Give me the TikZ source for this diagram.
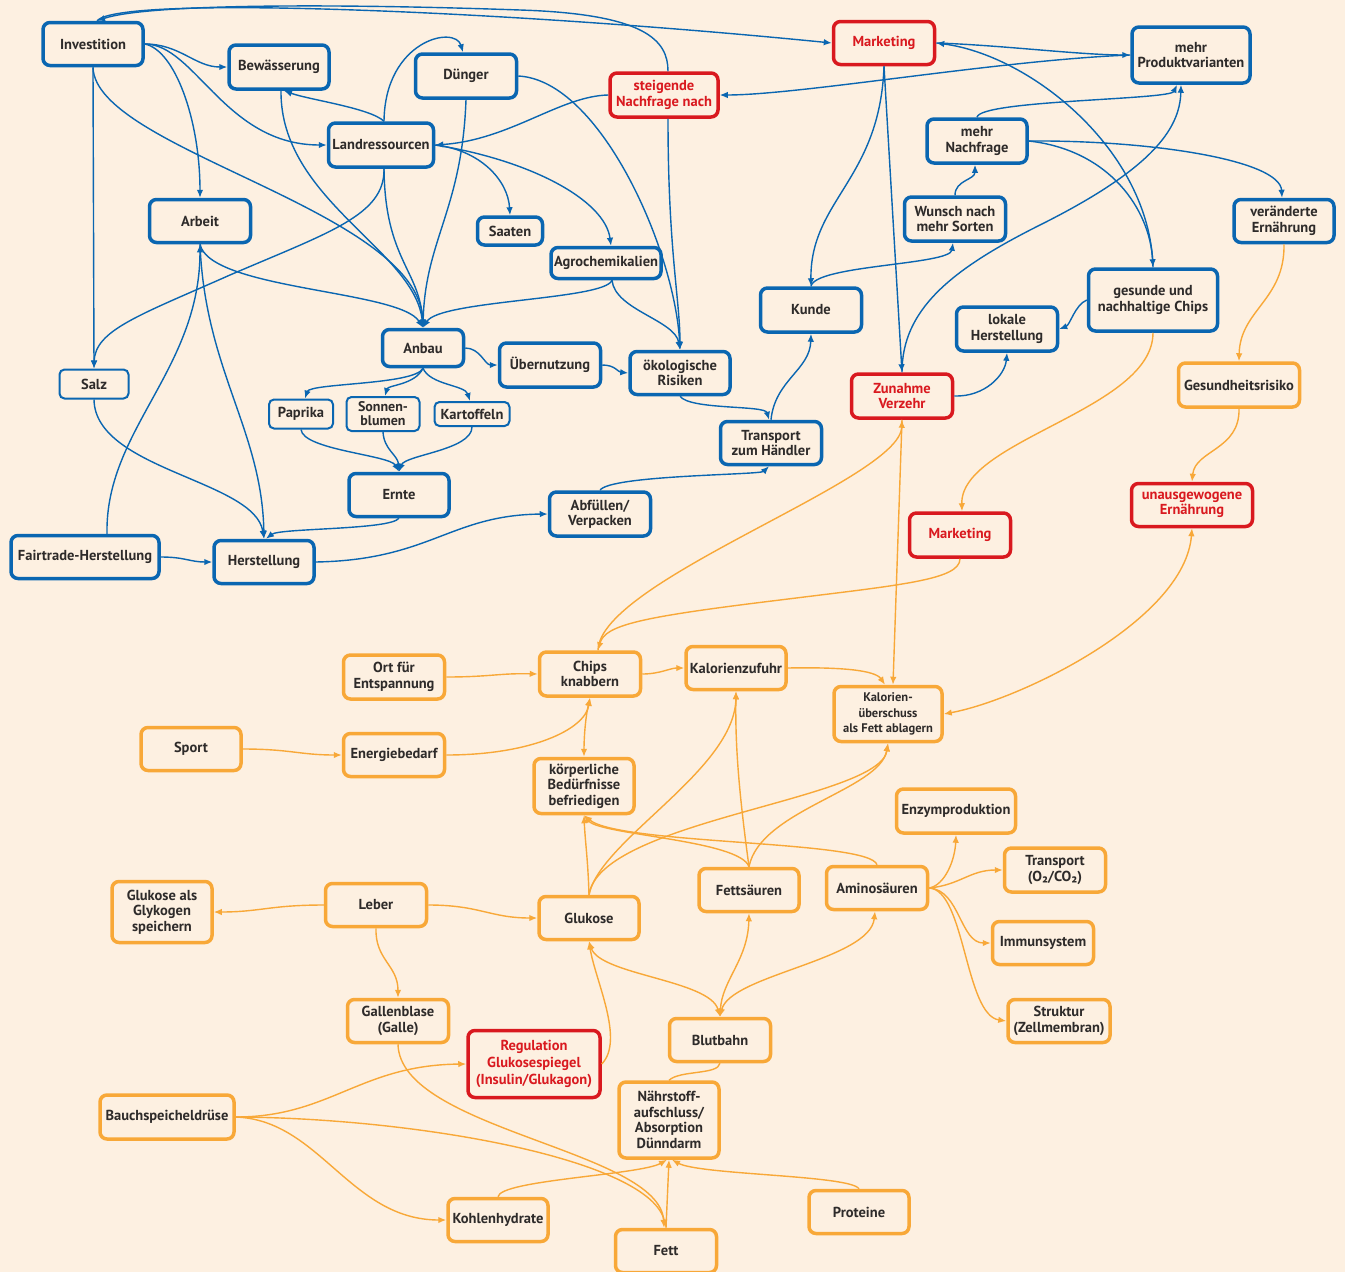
\documentclass[tikz,border=0pt]{standalone}
\usepackage{fontspec}
\setmainfont{PT Sans}
\usetikzlibrary{arrows.meta}
\definecolor{bgc}{HTML}{FDF0E1}
\definecolor{blc}{HTML}{0A66B1}
\definecolor{ogc}{HTML}{F8A838}
\definecolor{rdc}{HTML}{D9191F}
\definecolor{txc}{HTML}{2E2B2A}
\tikzset{
 nbox/.style={draw, rounded corners=7pt, line width=3.5pt, fill=bgc, align=center, text=txc,
   font=\bfseries\fontsize{14.5}{15.5}\selectfont, inner sep=1pt},
 bnode/.style={nbox, draw=blc},
 tnode/.style={nbox, draw=blc, line width=2pt, rounded corners=5pt},
 onode/.style={nbox, draw=ogc},
 rnode/.style={nbox, draw=rdc, text=rdc},
 sz/.style 2 args={minimum width=#1pt, minimum height=#2pt},
 ba/.style={draw=blc, line width=1.4pt, -{Latex[length=8pt,width=6.5pt]}},
 oa/.style={draw=ogc, line width=1.4pt, -{Latex[length=8pt,width=6.5pt]}},
 oaa/.style={draw=ogc, line width=1.4pt, {Latex[length=8pt,width=6.5pt]}-{Latex[length=8pt,width=6.5pt]}},
 ol/.style={draw=ogc, line width=1.4pt},
}
\begin{document}
\begin{tikzpicture}[x=1pt,y=-1pt]
\useasboundingbox (0,0) rectangle (1345,1272);
\fill[bgc] (0,0) rectangle (1345,1272);
% ---------- blue / red top nodes
\node[bnode, sz={100}{43}] (inv) at (93,44) {Investition};
\node[bnode, sz={100}{44}] (bew) at (279,67) {Bewässerung};
\node[bnode, sz={101}{44}] (dung) at (466,76) {Dünger};
\node[rnode, sz={108}{44}] (steig) at (664,95) {steigende\\Nachfrage nach};
\node[rnode, sz={101}{43}] (mkt1) at (884,43) {Marketing};
\node[bnode, sz={118}{56}] (prod) at (1191,55) {mehr\\Produktvarianten};
\node[bnode, sz={105}{44}] (land) at (381,145) {Landressourcen};
\node[bnode, sz={100}{44}] (mnach) at (977,141) {mehr\\Nachfrage};
\node[bnode, sz={101}{43}] (arbeit) at (200,221) {Arbeit};
\node[bnode, sz={65}{28}] (saaten) at (510,231) {Saaten};
\node[bnode, sz={110}{31}] (agro) at (606,263) {Agrochemikalien};
\node[bnode, sz={101}{44}] (wunsch) at (955,219) {Wunsch nach\\mehr Sorten};
\node[bnode, sz={100}{43}] (veraend) at (1284,221) {veränderte\\Ernährung};
\node[bnode, sz={101}{44}] (kunde) at (811,310) {Kunde};
\node[bnode, sz={129}{62}] (gesund) at (1153,300) {gesunde und\\nachhaltige Chips};
\node[bnode, sz={101}{44}] (lokal) at (1007,329) {lokale\\Herstellung};
\node[bnode, sz={81}{37}] (anbau) at (423,348) {Anbau};
\node[bnode, sz={101}{44}] (uebern) at (550,365) {Übernutzung};
\node[bnode, sz={100}{43}] (oeko) at (680,373) {ökologische\\Risiken};
\node[tnode, sz={69}{29}] (salz) at (94,384) {Salz};
\node[tnode, sz={64}{29}] (paprika) at (301,414) {Paprika};
\node[tnode, sz={73}{34}, font=\bfseries\fontsize{14}{14}\selectfont] (sonnen) at (383,414) {Sonnen-\\blumen};
\node[tnode, sz={75}{24}, inner sep=0pt] (kartof) at (472,414) {Kartoffeln};
\node[rnode, sz={101}{44}] (zunahme) at (902,396) {Zunahme\\Verzehr};
\node[onode, sz={121}{44}] (gesrisk) at (1239,385) {Gesundheitsrisiko};
\node[bnode, sz={101}{43}] (transp) at (771,443) {Transport\\zum Händler};
\node[bnode, sz={100}{43}] (ernte) at (399,495) {Ernte};
\node[bnode, sz={101}{44}] (abf) at (600,514) {Abfüllen/\\Verpacken};
\node[rnode, sz={121}{43}] (unaus) at (1192,505) {unausgewogene\\Ernährung};
\node[rnode, sz={101}{44}] (mkt2) at (960,535) {Marketing};
\node[bnode, sz={148}{43}] (fair) at (85,557) {Fairtrade-Herstellung};
\node[bnode, sz={100}{43}] (herst) at (264,562) {Herstellung};
% ---------- orange nodes
\node[onode, sz={101}{44}] (ort) at (394,677) {Ort für\\Entspannung};
\node[onode, sz={101}{44}] (chips) at (590,674) {Chips\\knabbern};
\node[onode, sz={100}{43}] (kalz) at (736,668) {Kalorienzufuhr};
\node[onode, sz={108}{55}, font=\bfseries\fontsize{12.5}{15.5}\selectfont] (kalu) at (888,714) {Kalorien-\\überschuss\\als Fett ablagern};
\node[onode, sz={100}{43}] (sport) at (191,749) {Sport};
\node[onode, sz={101}{43}] (energ) at (394,755) {Energiebedarf};
\node[onode, sz={100}{55}] (koerp) at (584,786) {körperliche\\Bedürfnisse\\befriedigen};
\node[onode, sz={119}{44}] (enzym) at (956,811) {Enzymproduktion};
\node[onode, sz={100}{61}] (glyk) at (162,912) {Glukose als\\Glykogen\\speichern};
\node[onode, sz={101}{43}] (leber) at (376,905) {Leber};
\node[onode, sz={101}{44}] (tO) at (1055,870) {Transport\\(O₂/CO₂)};
\node[onode, sz={100}{43}] (fetts) at (749,890) {Fettsäuren};
\node[onode, sz={101}{43}] (amino) at (877,888) {Aminosäuren};
\node[onode, sz={100}{43}] (gluk) at (589,918) {Glukose};
\node[onode, sz={101}{43}] (immun) at (1043,943) {Immunsystem};
\node[onode, sz={101}{43}] (galle) at (398,1021) {Gallenblase\\(Galle)};
\node[onode, sz={102}{43}] (struk) at (1059,1021) {Struktur\\(Zellmembran)};
\node[rnode, sz={132}{67}, font=\bfseries\fontsize{14.5}{17}\selectfont] (regul) at (534,1064) {Regulation\\Glukosespiegel\\(Insulin/Glukagon)};
\node[onode, sz={101}{43}] (blut) at (720,1040) {Blutbahn};
\node[onode, sz={134}{44}] (bauch) at (167,1117) {Bauchspeicheldrüse};
\node[onode, sz={100}{76}] (naehr) at (669,1120) {Nährstoff-\\aufschluss/\\Absorption\\Dünndarm};
\node[onode, sz={100}{43}] (kohl) at (498,1220) {Kohlenhydrate};
\node[onode, sz={100}{43}] (prot) at (859,1212) {Proteine};
\node[onode, sz={101}{43}] (fett) at (666,1251) {Fett};
% ---------- blue connectors
\draw[ba] ([xshift=4pt]inv.north) .. controls (120,-5) and (500,10) .. (mkt1.west);
\draw[ba] ([xshift=4pt]steig.north) .. controls (668,40) and (645,14) .. (520,10) .. controls (350,4) and (150,3) .. ([xshift=4pt]inv.north);
\draw[ba] (inv.east) .. controls (180,44) and (195,67) .. (bew.west);
\draw[ba] (inv.east) .. controls (195,44) and (225,145) .. (land.west);
\draw[ba] (inv.east) .. controls (175,50) and (200,120) .. (arbeit.north);
\draw[ba] (inv.south) .. controls (95,150) and (420,210) .. (anbau.north);
\draw[ba] (inv.south) -- (salz.north);
\draw[ba] ([xshift=3pt]land.north) .. controls (370,108) and (310,100) .. ([xshift=5pt]bew.south);
\draw[ba] ([xshift=3pt]land.north) .. controls (385,40) and (455,25) .. ([xshift=-3pt]dung.north);
\draw[ba] ([xshift=3pt]land.south) .. controls (385,215) and (330,232) .. (230,275) .. controls (140,315) and (95,330) .. (salz.north);
\draw[ba] ([xshift=3pt]land.south) .. controls (385,260) and (420,270) .. (anbau.north);
\draw[ba] (land.east) .. controls (480,150) and (508,180) .. (saaten.north);
\draw[ba] (land.east) .. controls (530,160) and (605,200) .. ([xshift=5pt]agro.north);
\draw[ba] (steig.west) .. controls (560,96) and (510,140) .. (land.east);
\draw[ba] ([xshift=2pt]bew.south) .. controls (280,200) and (415,250) .. (anbau.north);
\draw[ba] (dung.south) .. controls (462,210) and (425,240) .. (anbau.north);
\draw[ba] (dung.east) .. controls (600,80) and (675,250) .. (oeko.north);
\draw[ba] ([xshift=4pt]steig.south) .. controls (668,250) and (680,300) .. (oeko.north);
\draw[ba] ([xshift=6pt]agro.south) .. controls (615,310) and (675,320) .. (oeko.north);
\draw[ba] ([xshift=6pt]agro.south) .. controls (605,300) and (440,300) .. (anbau.north);
\draw[ba] (arbeit.south) .. controls (210,290) and (400,290) .. (anbau.north);
\draw[ba] ([xshift=22pt]fair.north) .. controls (105,430) and (200,370) .. (arbeit.south);
\draw[ba] (arbeit.south) .. controls (205,370) and (262,430) .. (herst.north);
\draw[ba] (salz.south) .. controls (95,470) and (255,480) .. (herst.north);
\draw[ba] (ernte.south) .. controls (390,530) and (280,528) .. ([xshift=2pt]herst.north);
\draw[ba] (fair.east) .. controls (185,557) and (190,562) .. (herst.west);
\draw[ba] (herst.east) .. controls (430,560) and (450,515) .. (abf.west);
\draw[ba] (abf.north) .. controls (610,475) and (760,475) .. ([xshift=-2pt]transp.south);
\draw[ba] (anbau.east) .. controls (480,348) and (485,365) .. (uebern.west);
\draw[ba] (uebern.east) .. controls (615,365) and (618,372) .. (oeko.west);
\draw[ba] (anbau.south) .. controls (415,385) and (310,383) .. ([xshift=4pt]paprika.north);
\draw[ba] (anbau.south) .. controls (415,385) and (388,385) .. ([xshift=2pt]sonnen.north);
\draw[ba] (anbau.south) .. controls (430,385) and (465,385) .. ([xshift=-2pt]kartof.north);
\draw[ba] (paprika.south) .. controls (303,450) and (390,455) .. (ernte.north);
\draw[ba] (sonnen.south) .. controls (384,450) and (398,455) .. (ernte.north);
\draw[ba] (kartof.south) .. controls (472,450) and (405,455) .. (ernte.north);
\draw[ba] (oeko.south) .. controls (690,410) and (765,405) .. ([xshift=-2pt]transp.north);
\draw[ba] (transp.north) .. controls (775,380) and (810,370) .. (kunde.south);
\draw[ba] (mkt1.south) .. controls (880,180) and (810,200) .. (kunde.north);
\draw[ba] (mkt1.south) -- (zunahme.north);
\draw[ba] (kunde.north) .. controls (815,265) and (950,265) .. ([xshift=-2pt]wunsch.south);
\draw[ba] (wunsch.north) .. controls (955,180) and (975,180) .. ([xshift=-2pt]mnach.south);
\draw[ba] (mnach.north) .. controls (980,100) and (1170,100) .. ([xshift=-14pt]prod.south);
\draw[ba] (zunahme.north) .. controls (902,310) and (950,270) .. (1040,225) .. controls (1150,170) and (1180,130) .. ([xshift=-10pt]prod.south);
\draw[ba] (mnach.east) .. controls (1150,140) and (1280,160) .. ([xshift=-2pt]veraend.north);
\draw[ba] (mnach.east) .. controls (1110,150) and (1150,210) .. (gesund.north);
\draw[ba] (mkt1.east) .. controls (1000,45) and (1080,55) .. (prod.west);
\draw[ba] (gesund.north) .. controls (1150,150) and (1030,55) .. (mkt1.east);
\draw[ba] (prod.west) .. controls (1000,60) and (800,95) .. (steig.east);
\draw[ba] (gesund.west) .. controls (1075,305) and (1070,325) .. (lokal.east);
\draw[ba] (zunahme.east) .. controls (985,397) and (1005,375) .. (lokal.south);
% ---------- orange connectors
\draw[oa] (veraend.south) .. controls (1285,300) and (1240,310) .. (gesrisk.north);
\draw[oa] (gesrisk.south) .. controls (1240,450) and (1195,450) .. (unaus.north);
\draw[oa] (gesund.south) .. controls (1153,410) and (960,440) .. ([xshift=2pt]mkt2.north);
\draw[oa] (mkt2.south) .. controls (960,580) and (900,585) .. (780,600) .. controls (640,617) and (605,625) .. ([xshift=8pt]chips.north);
\draw[oa] ([xshift=8pt]chips.north) .. controls (600,580) and (900,480) .. (zunahme.south);
\draw[oa] (zunahme.south) -- ([xshift=5pt]kalu.north);
\draw[oaa] (unaus.south) .. controls (1185,620) and (1020,700) .. (kalu.east);
\draw[oa] (ort.east) .. controls (490,677) and (500,673) .. (chips.west);
\draw[oa] (chips.east) .. controls (660,674) and (670,668) .. (kalz.west);
\draw[oa] (kalz.east) .. controls (840,667) and (875,670) .. ([xshift=-3pt]kalu.north);
\draw[oa] (sport.east) .. controls (290,749) and (300,755) .. (energ.west);
\draw[oa] (energ.east) .. controls (530,755) and (585,730) .. (chips.south);
\draw[oaa] (chips.south) .. controls (585,720) and (584,740) .. (koerp.north);
\draw[oa] (gluk.north) .. controls (588,860) and (585,840) .. (koerp.south);
\draw[oa] (gluk.north) .. controls (600,840) and (735,770) .. (kalz.south);
\draw[oa] (gluk.north) .. controls (600,820) and (880,800) .. (kalu.south);
\draw[oa] (fetts.north) .. controls (740,800) and (735,750) .. (kalz.south);
\draw[oa] (fetts.north) .. controls (740,840) and (600,835) .. (koerp.south);
\draw[oa] (fetts.north) .. controls (760,810) and (880,790) .. (kalu.south);
\draw[oa] (amino.north) .. controls (870,840) and (620,845) .. (koerp.south);
\draw[oa] (amino.east) .. controls (945,885) and (955,860) .. (enzym.south);
\draw[oa] (amino.east) .. controls (960,885) and (970,870) .. (tO.west);
\draw[oa] (amino.east) .. controls (960,890) and (960,943) .. (immun.west);
\draw[oa] (amino.east) .. controls (965,890) and (965,1015) .. (struk.west);
\draw[oa] (leber.west) .. controls (270,905) and (260,912) .. (glyk.east);
\draw[oa] (leber.east) .. controls (480,905) and (490,918) .. (gluk.west);
\draw[oa] (leber.south) .. controls (375,960) and (398,965) .. (galle.north);
\draw[oa] (galle.south) .. controls (400,1130) and (660,1150) .. ([xshift=-2pt]fett.north);
\draw[oaa] (blut.north) .. controls (710,980) and (600,975) .. (gluk.south);
\draw[oaa] (blut.north) .. controls (722,980) and (748,960) .. (fetts.south);
\draw[oaa] (blut.north) .. controls (730,975) and (870,960) .. ([xshift=-2pt]amino.south);
\draw[oa] (regul.east) .. controls (625,1040) and (595,980) .. (gluk.south);
\draw[ol] (blut.south) .. controls (718,1075) and (680,1070) .. (naehr.north);
\draw[oa] (bauch.east) .. controls (330,1117) and (360,1065) .. (regul.west);
\draw[oa] (bauch.east) .. controls (420,1118) and (650,1160) .. (fett.north);
\draw[oa] (bauch.east) .. controls (320,1120) and (350,1220) .. (kohl.west);
\draw[oa] (kohl.north) .. controls (500,1180) and (640,1175) .. ([xshift=-2pt]naehr.south);
\draw[oa] (prot.north) .. controls (850,1175) and (700,1175) .. ([xshift=3pt]naehr.south);
\draw[oa] (fett.north) -- (naehr.south);
\end{tikzpicture}
\end{document}
